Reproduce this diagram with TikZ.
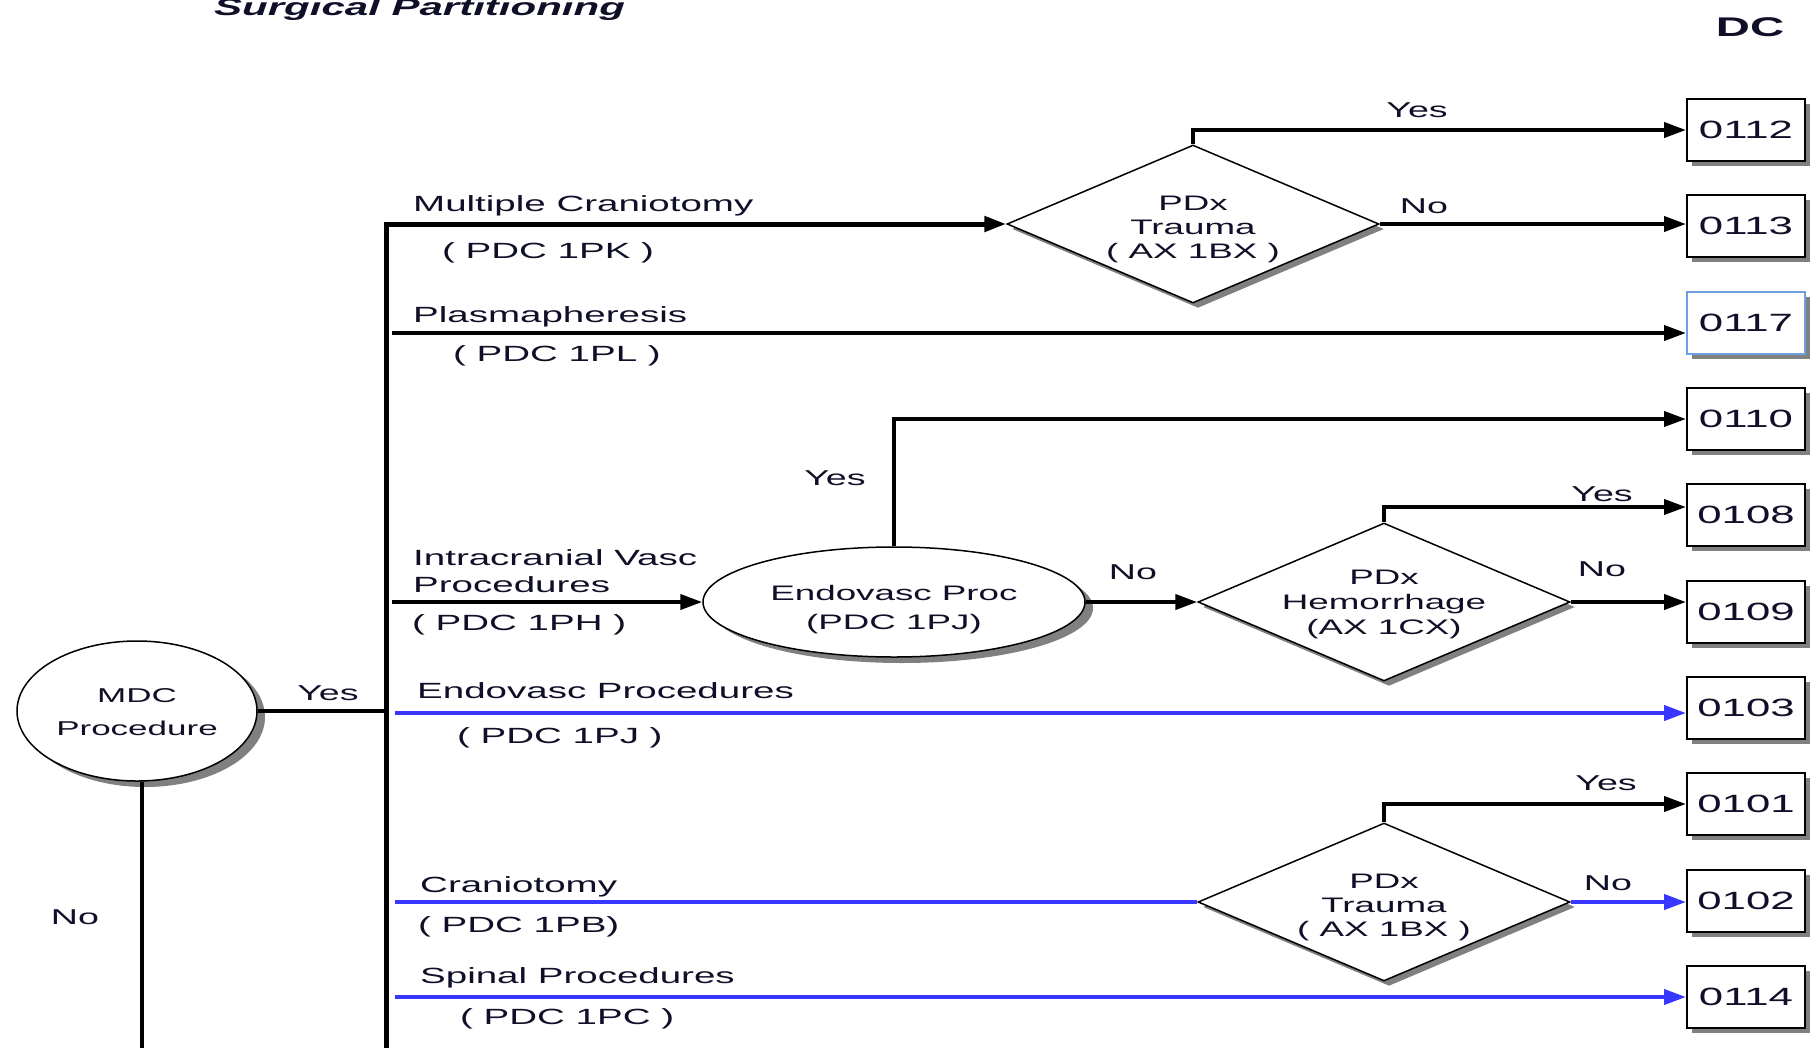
\documentclass[tikz,border=0pt]{standalone}
\usepackage{fontspec}
\setmainfont{Liberation Sans}[FakeStretch=1.75]
\usetikzlibrary{arrows.meta,shapes.geometric,shadows,calc}
\newcommand\myfs[2]{\fontsize{#1}{#2}\selectfont}
\definecolor{txt}{RGB}{15,15,40}
\definecolor{lnblue}{RGB}{55,55,255}
\definecolor{boxblue}{RGB}{110,160,225}
\tikzset{
  shad/.style={drop shadow={shadow xshift=5pt,shadow yshift=-5pt,fill=black!50,opacity=1}},
  eshad/.style={drop shadow={shadow xshift=8pt,shadow yshift=-6pt,fill=black!50,opacity=1}},
  dcbox/.style={draw,line width=2pt,fill=white,minimum width=118pt,minimum height=62pt,inner sep=0pt,shad,font=\myfs{25}{28},text=txt},
  dia/.style={diamond,draw,line width=1.5pt,fill=white,aspect=2.34,minimum width=372pt,minimum height=158pt,inner sep=0pt,shad},
  diatext/.style={inner sep=0pt,align=center,font=\myfs{21}{24},text=txt},
  ell/.style={ellipse,draw,line width=1.5pt,fill=white,inner sep=0pt,eshad},
  lbl/.style={anchor=base west,inner sep=0pt,font=\myfs{22}{25},text=txt},
  yn/.style={inner sep=0pt,font=\myfs{21.5}{24},text=txt},
  conn/.style={line width=4pt,black},
  bus/.style={line width=5pt,black},
  bconn/.style={line width=4pt,lnblue},
  tip/.style={-{Triangle[length=22pt,width=15pt]}},
}
\begin{document}
\begin{tikzpicture}[x=1pt,y=-1pt]
\useasboundingbox (0,0) rectangle (1814,1047);
\fill[white] (0,0) rectangle (1814,1047);

% title and header
\node[anchor=base west,inner sep=0pt,font=\myfs{24}{27}\bfseries\itshape,text=txt] (title) at (214,15) {Surgical Partitioning};
\node[inner sep=0pt,font=\myfs{27}{30}\bfseries,text=txt] (dc) at (1750,27) {DC};

% DC boxes
\node[dcbox] (b0112) at (1746,130) {0112};
\node[dcbox] (b0113) at (1746,226) {0113};
\node[dcbox,draw=boxblue] (b0117) at (1746,323) {0117};
\node[dcbox] (b0110) at (1746,419) {0110};
\node[dcbox] (b0108) at (1746,515) {0108};
\node[dcbox] (b0109) at (1746,612) {0109};
\node[dcbox] (b0103) at (1746,708) {0103};
\node[dcbox] (b0101) at (1746,804) {0101};
\node[dcbox] (b0102) at (1746,901) {0102};
\node[dcbox] (b0114) at (1746,997) {0114};

% decision shapes
\node[ell,minimum width=240pt,minimum height=140pt] (mdc) at (137,711) {};
\node[diatext,font=\myfs{20}{33}] (mdct) at (137,712) {MDC\\Procedure};
\node[ell,minimum width=382pt,minimum height=110pt] (endo) at (894,602) {};
\node[diatext,font=\myfs{21}{29}] (endot) at (894,610) {Endovasc Proc\\(PDC 1PJ)};
\node[dia] (d1) at (1193,224) {};
\node[diatext] (d1t) at (1193,229) {PDx\\Trauma\\( AX 1BX )};
\node[dia] (d2) at (1384,602) {};
\node[diatext,font=\myfs{21}{25}] (d2t) at (1384,604) {PDx\\Hemorrhage\\(AX 1CX)};
\node[dia] (d3) at (1384,902) {};
\node[diatext] (d3t) at (1384,907) {PDx\\Trauma\\( AX 1BX )};

% coordinates
\coordinate (busbot) at (386,1070);
\coordinate (mdcbot) at (142,1070);
\coordinate (p1) at (392,333);
\coordinate (p2) at (392,602);
\coordinate (p3) at (395,713);
\coordinate (p4) at (395,902);
\coordinate (p5) at (395,997);

% connectors
\draw[bus,tip] (busbot) |- (d1.west);
\draw[conn] (mdc.east) -- (mdc.east -| busbot);
\draw[conn] (mdcbot |- mdc.south) -- (mdcbot);
\draw[conn,tip] (d1.north) |- (b0112.west);
\draw[conn,tip] (d1.east) -- (d1.east -| b0113.west);
\draw[conn,tip] (p1) -- (p1 -| b0117.west);
\draw[conn,tip] (p2) -- (endo.west);
\draw[conn,tip] (endo.north) |- (b0110.west);
\draw[conn,tip] (endo.east) -- (d2.west);
\draw[conn,tip] (d2.north) |- ([yshift=8pt]b0108.west);
\draw[conn,tip] (d2.east) -- (d2.east -| b0109.west);
\draw[bconn,tip] (p3) -- (p3 -| b0103.west);
\draw[bconn] (p4) -- (d3.west);
\draw[conn,tip] (d3.north) |- (b0101.west);
\draw[bconn,tip] (d3.east) -- (d3.east -| b0102.west);
\draw[bconn,tip] (p5) -- (p5 -| b0114.west);

% branch labels
\node[lbl] (l1a) at (413,211) {Multiple Craniotomy};
\node[lbl] (l1b) at (442,258) {( PDC 1PK )};
\node[lbl] (l2a) at (413,322) {Plasmapheresis};
\node[lbl] (l2b) at (453,361) {( PDC 1PL )};
\node[lbl] (l3a) at (413,565) {Intracranial Vasc};
\node[lbl] (l3b) at (413,592) {Procedures};
\node[lbl] (l3c) at (412,630) {( PDC 1PH )};
\node[lbl] (l4a) at (417,698) {Endovasc Procedures};
\node[lbl] (l4b) at (457,743) {( PDC 1PJ )};
\node[lbl] (l5a) at (420,892) {Craniotomy};
\node[lbl] (l5b) at (418,932) {( PDC 1PB)};
\node[lbl] (l6a) at (420,983) {Spinal Procedures};
\node[lbl] (l6b) at (460,1024) {( PDC 1PC )};

% yes / no labels
\node[yn] (ymdc) at (328,693) {Yes};
\node[yn] (nmdc) at (75,917) {No};
\node[yn] (yd1) at (1417,110) {Yes};
\node[yn] (nd1) at (1424,206) {No};
\node[yn] (yendo) at (835,478) {Yes};
\node[yn] (nendo) at (1133,572) {No};
\node[yn] (yd2) at (1602,494) {Yes};
\node[yn] (nd2) at (1602,569) {No};
\node[yn] (yd3) at (1606,783) {Yes};
\node[yn] (nd3) at (1608,883) {No};
\end{tikzpicture}
\end{document}
